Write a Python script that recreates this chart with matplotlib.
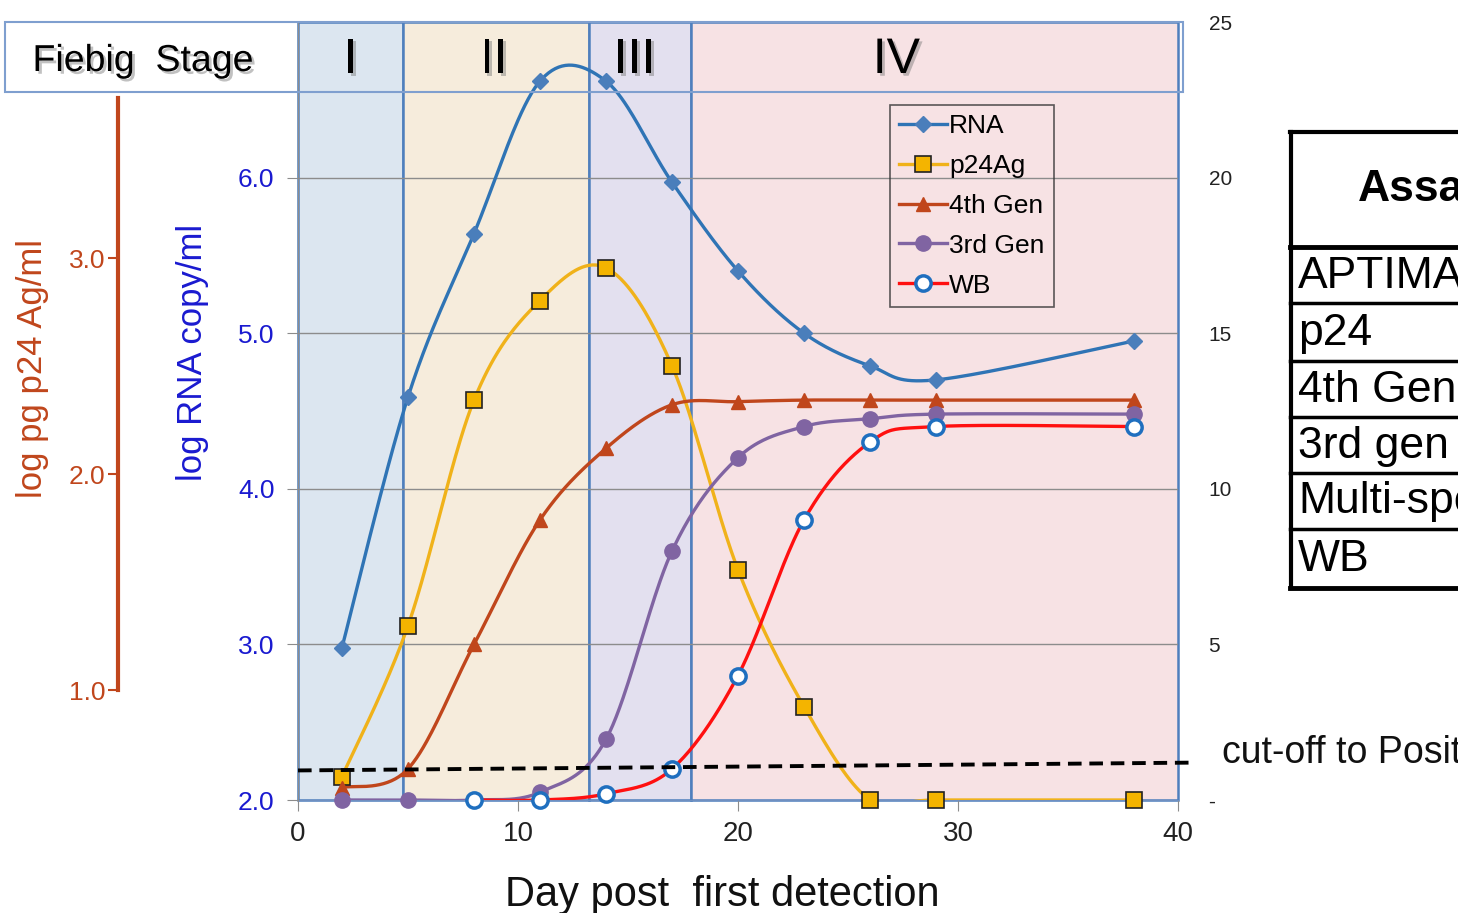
import numpy as np
import matplotlib
matplotlib.use("Agg")
import matplotlib.pyplot as plt
from matplotlib.patches import Rectangle
from matplotlib.lines import Line2D
import matplotlib.patheffects as pe

plt.rcParams['font.family'] = ['Liberation Sans', 'DejaVu Sans']

# ---------------- data ----------------
days = [2, 5, 8, 11, 14, 17, 20, 23, 26, 29, 38]
rna = [2.98, 4.59, 5.64, 6.62, 6.62, 5.97, 5.40, 5.00, 4.79, 4.70, 4.95]
p24ag = [2.15, 3.12, 4.57, 5.21, 5.42, 4.79, 3.48, 2.60, 2.00, 2.00, 2.00]
gen4 = [2.08, 2.20, 3.00, 3.80, 4.26, 4.54, 4.56, 4.57, 4.57, 4.57, 4.57]
gen3 = [2.00, 2.00, 2.00, 2.05, 2.39, 3.60, 4.20, 4.40, 4.45, 4.48, 4.48]
wb_days = [8, 11, 14, 17, 20, 23, 26, 29, 38]
wb = [2.00, 2.00, 2.04, 2.20, 2.80, 3.80, 4.30, 4.40, 4.40]

stage_names = ['I', 'II', 'III', 'IV']
stage_bounds = [0, 4.77, 13.24, 17.85, 40]
stage_label_x = [2.4, 8.9, 15.3, 27.2]
stage_colors = ['#dce6f0', '#f6ecdc', '#e3e0ef', '#f7e2e4']

cutoff_x = [0, 40.5]
cutoff_y = [2.19, 2.24]

left_ticks = [2.0, 3.0, 4.0, 5.0, 6.0]
right_ticks = [0, 5, 10, 15, 20, 25]
right_ticklabels = ['-', '5', '10', '15', '20', '25']
red_ticks = [1.0, 2.0, 3.0]
x_ticks = [0, 10, 20, 30, 40]

table_rows = ['APTIMA', 'p24', '4th Gen', '3rd gen', 'Multi-spe', 'WB']

# ---------------- helpers ----------------
W, H = 1458, 913


def fx(px):
    return px / W


def fy(py):
    return 1 - py / H


def smooth(xs, ys, n=40):
    pts = np.column_stack([xs, ys]).astype(float)
    P = np.vstack([pts[0], pts, pts[-1]])
    out = []
    for i in range(len(pts) - 1):
        p0, p1, p2, p3 = P[i], P[i + 1], P[i + 2], P[i + 3]
        c1 = p1 + (p2 - p0) / 6
        c2 = p2 - (p3 - p1) / 6
        t = np.linspace(0, 1, n)[:, None]
        seg = (1 - t) ** 3 * p1 + 3 * (1 - t) ** 2 * t * c1 + 3 * (1 - t) * t ** 2 * c2 + t ** 3 * p2
        out.append(seg if i == 0 else seg[1:])
    s = np.vstack(out)
    return s[:, 0], s[:, 1]


shadow = [pe.withSimplePatchShadow(offset=(2, -2), shadow_rgbFace='#777777', alpha=0.45)]

fig = plt.figure(figsize=(W / 100, H / 100), dpi=100)
ax = fig.add_axes([fx(298), fy(800), fx(1178) - fx(298), fy(22) - fy(800)])
ax.set_xlim(0, 40)
ax.set_ylim(2, 7)

# header box outline (over whole width)
fig.add_artist(Rectangle((fx(5), fy(92)), fx(1183) - fx(5), fy(22) - fy(92),
                         transform=fig.transFigure, fill=False,
                         edgecolor='#7f9fcf', lw=1.5, zorder=5))

# stage columns
for i in range(4):
    ax.add_patch(Rectangle((stage_bounds[i], 2), stage_bounds[i + 1] - stage_bounds[i], 5,
                           facecolor=stage_colors[i], edgecolor='#4f7fbd', lw=1.8,
                           zorder=0.5, clip_on=False))
header_y = 2 + (800 - 92) / 155.6
ax.plot([0, 40], [header_y, header_y], color='#5f87c3', lw=1.3, zorder=0.6)

for name, xs in zip(stage_names, stage_label_x):
    ax.text(xs, 2 + (800 - 60) / 155.6, name, fontsize=36, ha='center', va='center', color='black',
            zorder=5, path_effects=shadow)
fig.text(fx(143), fy(61), 'Fiebig  Stage', fontsize=27, ha='center', va='center', color='black',
         path_effects=shadow)

# gridlines
for yv in [3, 4, 5, 6]:
    ax.axhline(yv, color='#8c8c8c', lw=1.0, zorder=0.8)

# series
series = [
    ('RNA', days, rna, '#2f74b5', dict(marker='D', ms=8.5, mfc='#4a7ebb', mec='#4a7ebb')),
    ('p24Ag', days, p24ag, '#f0b21a', dict(marker='s', ms=11, mfc='#f4b400', mec='#222222', mew=1.2)),
    ('4th Gen', days, gen4, '#c0461c', dict(marker='^', ms=10, mfc='#c0461c', mec='#c0461c')),
    ('3rd Gen', days, gen3, '#8064a2', dict(marker='o', ms=11, mfc='#8064a2', mec='#8064a2')),
    ('WB', wb_days, wb, '#ff1010', dict(marker='o', ms=11, mfc='white', mec='#1f6fbf', mew=2.5)),
]
handles = []
for k, (name, xs, ys, col, mk) in enumerate(series):
    sx, sy = smooth(xs, ys)
    ax.plot(sx, sy, color=col, lw=2.4, zorder=3 + k * 0.1)
    ax.plot(xs, ys, ls='none', zorder=4 + k * 0.1, clip_on=False, **mk)
    handles.append(Line2D([], [], color=col, lw=2.4, **mk))

# cutoff line
ax.plot(cutoff_x, cutoff_y, color='black', lw=2.8, ls=(0, (3.5, 2)), zorder=6, clip_on=False)

# legend
leg = ax.legend(handles, [s[0] for s in series], loc='upper left',
                bbox_to_anchor=(fx(890), fy(105)), bbox_transform=fig.transFigure,
                fontsize=19, frameon=True, fancybox=False, handlelength=1.8,
                handletextpad=0.1, labelspacing=0.6, borderpad=0.35, borderaxespad=0)
leg.get_frame().set_edgecolor('#333333')
leg.get_frame().set_facecolor('none')
leg.get_frame().set_linewidth(1.2)
leg.set_zorder(7)

# axes styling
for s in ['top', 'right']:
    ax.spines[s].set_visible(False)
ax.spines['left'].set_color('#8c8c8c')
ax.spines['bottom'].set_color('#6f8fc0')
ax.spines['bottom'].set_zorder(2)
ax.set_yticks(left_ticks)
ax.set_yticklabels([f'{v:.1f}' for v in left_ticks])
ax.tick_params(axis='y', colors='#8c8c8c', labelcolor='#1a1ad0', labelsize=19, length=8, pad=9)
ax.set_xticks(x_ticks)
ax.tick_params(axis='x', colors='#8c8c8c', labelcolor='#222222', labelsize=20, length=8, pad=7)

# right axis
ax2 = ax.twinx()
ax2.set_ylim(0, 25)
ax2.set_yticks(right_ticks)
ax2.set_yticklabels(right_ticklabels)
ax2.tick_params(axis='y', length=0, labelsize=15, pad=22, labelcolor='#222222')
for s in ax2.spines.values():
    s.set_visible(False)

# red axis
axr = fig.add_axes([fx(118), fy(690), 0.0001, fy(98) - fy(690)])
axr.set_ylim(1.0, 1.0 + (690 - 98) / 216)
for s in ['top', 'right', 'bottom']:
    axr.spines[s].set_visible(False)
axr.spines['left'].set_color('#c0461c')
axr.spines['left'].set_linewidth(3)
axr.set_xticks([])
axr.set_yticks(red_ticks)
axr.set_yticklabels([f'{v:.1f}' for v in red_ticks])
axr.tick_params(axis='y', colors='#c0461c', labelcolor='#c0461c', labelsize=19, length=7, width=1.5, pad=2)
axr.patch.set_visible(False)

# axis labels
fig.text(fx(722), fy(895), 'Day post  first detection', fontsize=30, ha='center', va='center', color='#111111')
fig.text(fx(192), fy(352), 'log RNA copy/ml', fontsize=25, rotation=90, ha='center', va='center', color='#1a1ad0')
fig.text(fx(33), fy(368), 'log pg p24 Ag/ml', fontsize=25, rotation=90, ha='center', va='center', color='#c0461c')

# cutoff label
fig.text(fx(1222), fy(753), 'cut-off to Positive', fontsize=27, ha='left', va='center', color='#111111')

# table
row_lines = [132, 247, 303, 361, 417, 473, 529, 588]
line_w = [3.0, 3.5, 2.5, 2.5, 2.5, 2.5, 2.5, 3.5]
for yl, lw in zip(row_lines, line_w):
    fig.add_artist(Line2D([fx(1290), 1.01], [fy(yl), fy(yl)], transform=fig.transFigure, color='black', lw=lw))
fig.add_artist(Line2D([fx(1291), fx(1291)], [fy(132), fy(588)], transform=fig.transFigure, color='black', lw=3))
fig.text(fx(1358), fy(190), 'Assay', fontsize=32, fontweight='bold', ha='left', va='center', color='black')
for i, r in enumerate(table_rows):
    yc = (row_lines[i + 1] + row_lines[i + 2]) / 2
    fig.text(fx(1298), fy(yc + 1), r, fontsize=32, ha='left', va='center', color='black')

fig.savefig('out.png', dpi=100)
